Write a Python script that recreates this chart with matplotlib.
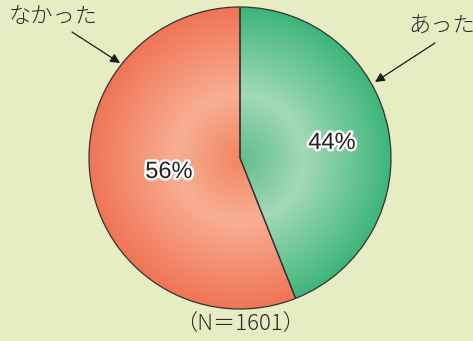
import numpy as np
import matplotlib.pyplot as plt
import matplotlib.patheffects as pe
from matplotlib.colors import to_rgb

labels = ['あった', 'なかった']
values = [44, 56]
pct_text = ['44%', '56%']
n_total = 1601

# ring-shaped shading per slice: centre, light ring, rim
shades = [
    ['#5fbd8a', '#a3d9b7', '#3db57a'],
    ['#f2845f', '#f8ae93', '#f07455'],
]
bg = '#e6edc3'

W, H = 473, 341
cx, cy, R = 240, 183, 151

fig = plt.figure(figsize=(W / 100, H / 100), dpi=100)
fig.patch.set_facecolor(bg)
ax = fig.add_axes([0, 0, 1, 1])

wedges, _ = ax.pie(values, startangle=90, counterclock=False,
                   center=(cx, cy), radius=R, frame=True,
                   wedgeprops=dict(facecolor='none', edgecolor='#333333',
                                   linewidth=0.9))
ax.set_xlim(0, W)
ax.set_ylim(0, H)
ax.set_aspect('equal')
ax.axis('off')

# radial gradient image, clipped to each wedge
xs = np.linspace(cx - R, cx + R, 400)
ys = np.linspace(cy - R, cy + R, 400)
gx, gy = np.meshgrid(xs, ys)
rr = np.hypot(gx - cx, gy - cy) / R
stops = [0.0, 0.42, 1.0]
for w, cols in zip(wedges, shades):
    rgb = np.array([to_rgb(c) for c in cols])
    img = np.stack([np.interp(rr, stops, rgb[:, k]) for k in range(3)], axis=-1)
    im = ax.imshow(img, extent=(cx - R, cx + R, cy - R, cy + R),
                   origin='lower', zorder=1, interpolation='bilinear')
    im.set_clip_path(w)
    w.set_zorder(3)

stroke = [pe.withStroke(linewidth=3.5, foreground='white')]
ax.text(332, H - 143, pct_text[0], fontsize=17, family='Liberation Sans',
        ha='center', va='center', color='#222222', path_effects=stroke, zorder=5)
ax.text(169, H - 172, pct_text[1], fontsize=17, family='Liberation Sans',
        ha='center', va='center', color='#222222', path_effects=stroke, zorder=5)

jp = ['Noto Sans CJK JP', 'DejaVu Sans']
arrow = dict(arrowstyle='-|>', color='#1a1a1a', lw=0.9, mutation_scale=14,
             shrinkA=0, shrinkB=0)
ax.text(9, H - 17, labels[1], fontsize=16, family=jp, ha='left', va='center',
        color='#2a2a2a', fontweight='light')
ax.annotate('', xy=(120, H - 63), xytext=(72, H - 32), arrowprops=arrow)
ax.text(408, H - 27, labels[0], fontsize=16, family=jp, ha='left', va='center',
        color='#2a2a2a', fontweight='light')
ax.annotate('', xy=(375, H - 82), xytext=(435, H - 43), arrowprops=arrow)

ax.text(240, H - 325, f'（N＝{n_total}）', fontsize=16, family=jp,
        ha='center', va='center', color='#2a2a2a', fontweight='light')

fig.savefig('out.png', dpi=100, facecolor=bg)
